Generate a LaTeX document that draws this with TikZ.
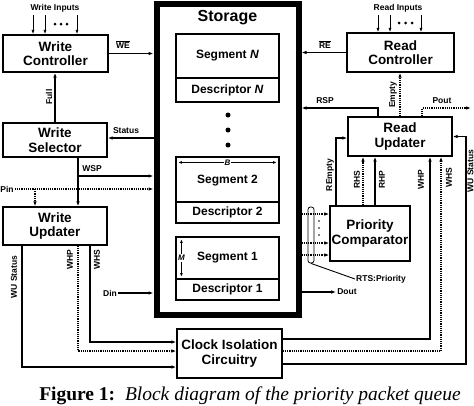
\documentclass[tikz,border=0pt]{standalone}
\usepackage{fontspec}
\setmainfont{Liberation Sans}
\newfontfamily\capfont{Liberation Serif}
\usetikzlibrary{arrows.meta,calc}
\begin{document}
\begin{tikzpicture}[x=1pt,y=-1pt,
  box/.style={draw,line width=1.4pt,inner sep=0pt,align=center,font=\fontsize{13.5}{14.5}\selectfont\bfseries},
  seg/.style={draw,line width=1.2pt,inner sep=0pt,align=center,minimum width=103pt,font=\fontsize{12}{13}\selectfont\bfseries},
  lab/.style={inner sep=1pt,font=\fontsize{8.5}{9}\selectfont\bfseries},
  wire/.style={line width=1.2pt,-{Latex[length=5pt,width=3.6pt]}},
  dwire/.style={wire,densely dotted},
  thinw/.style={line width=0.9pt,-{Latex[length=4.5pt,width=3.2pt]}},
  dimarrow/.style={line width=0.8pt,{Latex[length=3.5pt,width=3pt]}-{Latex[length=3.5pt,width=3pt]}},
  dimlab/.style={fill=white,inner sep=0.8pt,font=\fontsize{8}{8}\selectfont\bfseries\itshape},
  dot/.style={circle,fill,inner sep=0pt,minimum size=#1}]

\useasboundingbox (0,0) rectangle (474,405);

% ---------- Storage ----------
\node[draw,line width=6pt,minimum width=142pt,minimum height=311pt,inner sep=0pt] (st) at (227.5,159.5) {};
\node[font=\fontsize{16}{17}\selectfont\bfseries] (stl) at (227.5,18) {Storage};
\node[seg,minimum height=44pt] (segN) at (227.5,56) {Segment \textit{N}};
\node[seg,minimum height=24pt] (descN) at (227.5,90) {Descriptor \textit{N}};
\node[dot=5pt] (d1) at (228,115) {};
\node[dot=5pt] (d2) at (228,130) {};
\node[dot=5pt] (d3) at (228,145) {};
\node[seg,minimum height=45pt] (seg2) at (227.5,179.5) {\\[-2pt]Segment 2};
\node[seg,minimum height=21pt] (desc2) at (227.5,212.5) {Descriptor 2};
\node[seg,minimum height=42pt] (seg1) at (227.5,258) {Segment 1};
\node[seg,minimum height=21pt] (desc1) at (227.5,289.5) {Descriptor 1};
\draw[dimarrow] ($(seg2.north west)+(3,6)$) -- node[dimlab]{B} ($(seg2.north east)+(-3,6)$);
\draw[dimarrow] ($(seg1.north west)+(6,3)$) -- node[dimlab]{M} ($(seg1.south west)+(6,-3)$);

% ---------- Write side ----------
\node[box,minimum width=105pt,minimum height=37pt] (wc) at (55.5,53.5) {Write\\Controller};
\node[box,minimum width=104pt,minimum height=34pt] (ws) at (55,140) {Write\\Selector};
\node[box,minimum width=104pt,minimum height=38pt] (wu) at (55,226) {Write\\Updater};

\node[lab] (wil) at (55,8) {Write Inputs};
\coordinate (wi1) at (33,15);
\coordinate (wi2) at (45,15);
\coordinate (wi3) at (77,15);
\draw[thinw] (wi1) -- (wi1 |- wc.north);
\draw[thinw] (wi2) -- (wi2 |- wc.north);
\draw[thinw] (wi3) -- (wi3 |- wc.north);
\node[dot=3pt] (wd1) at (55,24) {};
\node[dot=3pt] (wd2) at (61,24) {};
\node[dot=3pt] (wd3) at (67,24) {};

\draw[wire] (wc.east) -- (wc.east -| st.west);
\node[lab] (wel) at (123,45) {$\overline{\mbox{WE}}$};

\draw[wire] (ws.north) -- (ws.north |- wc.south);
\node[lab,rotate=90] (fulll) at (49,97) {Full};

\coordinate (stat) at (130,138);
\draw[wire] (stat -| st.west) -- (stat -| ws.east);
\node[lab] (statl) at (126,131) {Status};

\coordinate (wsp) at (78,176);
\draw[wire] (wsp |- ws.south) -- (wsp |- wu.north);
\draw[wire] (wsp) -- (wsp -| st.west);
\node[lab] (wspl) at (92,169) {WSP};

\node[lab] (pin) at (7,189) {Pin};
\coordinate (pinb) at (35,189);
\draw[dwire] (pin.east) -- (pin.east -| st.west);
\draw[dwire] (pinb) -- (pinb |- wu.north);

% ---------- Clock isolation ----------
\node[box,minimum width=105pt,minimum height=49pt] (ci) at (229.5,353.5) {Clock Isolation\\Circuitry};

\coordinate (wusL) at (22,367);
\coordinate (whpL) at (78,351);
\coordinate (whsL) at (90,342);
\draw[wire] (wusL |- wu.south) -- (wusL) -- (wusL -| ci.west);
\draw[dwire] (whpL |- wu.south) -- (whpL) -- (whpL -| ci.west);
\draw[wire] (whsL |- wu.south) -- (whsL) -- (whsL -| ci.west);
\node[lab,rotate=90] (wusLl) at (14,277) {WU Status};
\node[lab,rotate=90] (whpLl) at (70,260) {WHP};
\node[lab,rotate=90] (whsLl) at (97,260) {WHS};

\node[lab] (din) at (110,293) {Din};
\draw[wire] (din.east) -- (din.east -| st.west);
\node[lab] (dout) at (347,292) {Dout};
\draw[wire] (dout.west -| st.east) -- (dout.west);

% ---------- Read side ----------
\node[box,minimum width=107pt,minimum height=39pt] (rc) at (400.5,52.5) {Read\\Controller};
\node[box,minimum width=104pt,minimum height=39pt] (ru) at (400,136.5) {Read\\Updater};
\node[box,minimum width=80pt,minimum height=55pt] (pc) at (370,233.5) {Priority\\Comparator};

\node[lab] (ril) at (398,8) {Read Inputs};
\coordinate (ri1) at (378,15);
\coordinate (ri2) at (390,15);
\coordinate (ri3) at (421,15);
\draw[thinw] (ri1) -- (ri1 |- rc.north);
\draw[thinw] (ri2) -- (ri2 |- rc.north);
\draw[thinw] (ri3) -- (ri3 |- rc.north);
\node[dot=3pt] (rd1) at (399,23) {};
\node[dot=3pt] (rd2) at (405.5,23) {};
\node[dot=3pt] (rd3) at (412,23) {};

\draw[wire] (rc.west) -- (rc.west -| st.east);
\node[lab] (rel) at (325,45) {$\overline{\mbox{RE}}$};

\draw[dwire] (ru.north) -- (ru.north |- rc.south);
\node[lab,rotate=90] (empl) at (393,95) {Empty};

\coordinate (rsp) at (378,108);
\draw[wire] (rsp |- ru.north) -- (rsp) -- (rsp -| st.east);
\node[lab] (rspl) at (325,101) {RSP};

\coordinate (pout) at (422,108);
\coordinate (poutend) at (471,108);
\draw[dwire] (pout |- ru.north) -- (pout) -- (poutend);
\node[lab] (poutl) at (442,101) {Pout};

\coordinate (rem) at (336,138);
\draw[wire] (rem |- pc.north) -- (rem) -- (rem -| ru.west);
\node[lab,rotate=90] (reml) at (330,175) {REmpty};
\coordinate (rhs) at (363,180);
\coordinate (rhp) at (375,180);
\draw[dwire] (rhs |- pc.north) -- (rhs |- ru.south);
\draw[wire] (rhp |- pc.north) -- (rhp |- ru.south);
\node[lab,rotate=90] (rhsl) at (357,180) {RHS};
\node[lab,rotate=90] (rhpl) at (382,180) {RHP};

\coordinate (whpR) at (430,339);
\coordinate (whsR) at (441,351);
\coordinate (wusR) at (466,364);
\draw[wire] (whpR -| ci.east) -- (whpR) -- (whpR |- ru.south);
\draw[dwire] (whsR -| ci.east) -- (whsR) -- (whsR |- ru.south);
\draw[wire] (wusR -| ci.east) -- (wusR) -- (wusR |- ru.east) -- (ru.east);
\node[lab,rotate=90] (whpRl) at (421,180) {WHP};
\node[lab,rotate=90] (whsRl) at (449,178) {WHS};
\node[lab,rotate=90] (wusRl) at (470.5,171) {WU Status};

% ---------- Priority inputs ----------
\coordinate (p1) at (320,214);
\coordinate (p2) at (320,243);
\coordinate (p3) at (320,255);
\draw[dwire] (p1 -| st.east) -- (p1 -| pc.west);
\draw[dwire] (p2 -| st.east) -- (p2 -| pc.west);
\draw[dwire] (p3 -| st.east) -- (p3 -| pc.west);
\node[dot=1.6pt] (pd1) at (319,221) {};
\node[dot=1.6pt] (pd2) at (319,228) {};
\node[dot=1.6pt] (pd3) at (319,235) {};
\node[draw,line width=0.8pt,rounded corners=2.5pt,minimum width=6pt,minimum height=56pt,inner sep=0pt] (bus) at (311,235) {};
\node[lab,anchor=west] (rts) at (355,279) {RTS:Priority};
\draw[line width=0.9pt] (bus.south) -- (rts.west);

% ---------- Caption ----------
\node[anchor=base,inner sep=0pt,font=\capfont\fontsize{19.5}{21}\selectfont] (cap) at (250,400)
  {\textbf{Figure 1:}\ \ \textit{Block diagram of the priority packet queue}};
\end{tikzpicture}
\end{document}
